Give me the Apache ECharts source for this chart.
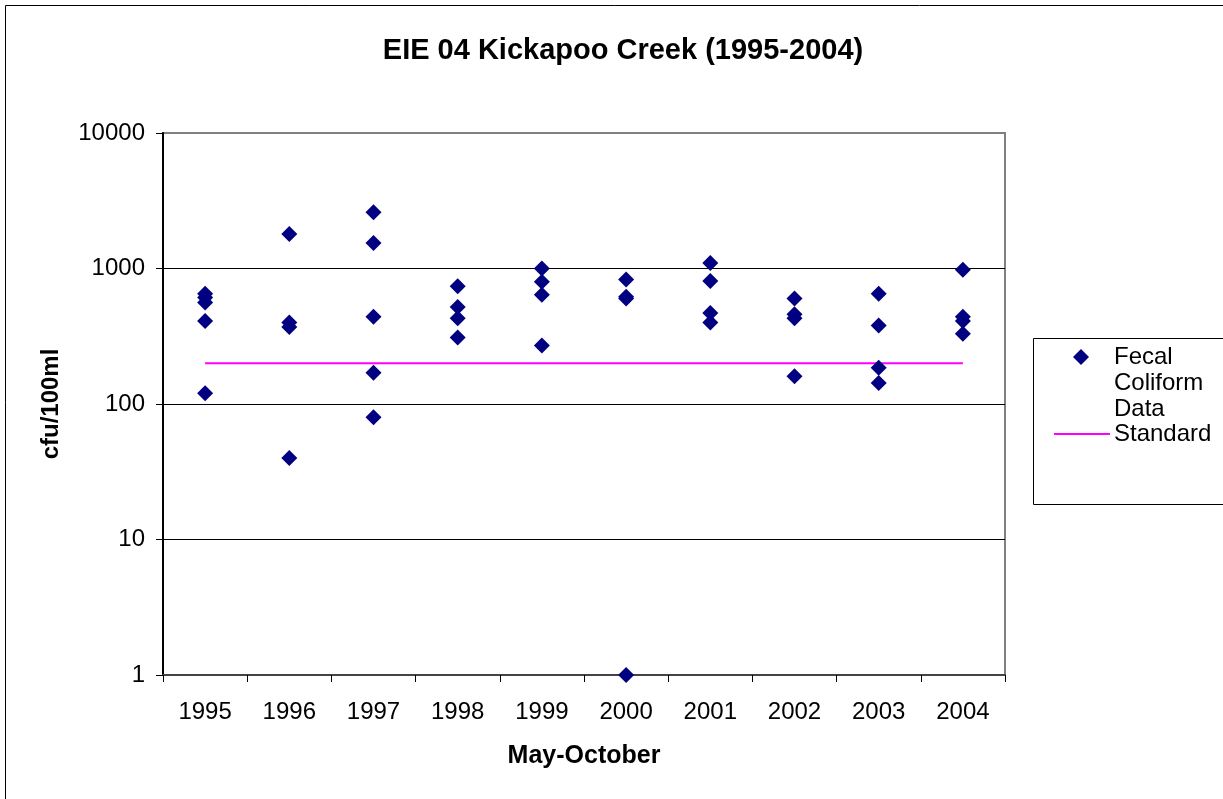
<!DOCTYPE html>
<html>
<head>
<meta charset="utf-8">
<script src="https://cdn.jsdelivr.net/npm/echarts@6/dist/echarts.min.js"></script>
<style>
html,body{margin:0;padding:0;background:#fff;}
#chart{width:1223px;height:799px;}
</style>
</head>
<body>
<div id="chart"></div>
<script>
const categories = ['1995','1996','1997','1998','1999','2000','2001','2002','2003','2004'];
const fecal1995 = [650, 610, 560, 410, 120];
const fecal1996 = [1800, 400, 370, 40];
const fecal1997 = [2600, 1540, 440, 170, 80];
const fecal1998 = [740, 520, 430, 310];
const fecal1999 = [1000, 800, 640, 270];
const fecal2000 = [830, 620, 600, 1];
const fecal2001 = [1100, 810, 470, 400];
const fecal2002 = [600, 460, 430, 160];
const fecal2003 = [650, 380, 185, 143];
const fecal2004 = [980, 440, 410, 330];
const standardValues = [200, 200, 200, 200, 200, 200, 200, 200, 200, 200];
const yTickLabels = ['1', '10', '100', '1000', '10000'];

const byYear = [fecal1995, fecal1996, fecal1997, fecal1998, fecal1999, fecal2000, fecal2001, fecal2002, fecal2003, fecal2004];
const scatterData = [];
byYear.forEach((vals, i) => vals.forEach(v => scatterData.push([categories[i], v])));

const FONT = 'Arial, "Liberation Sans", sans-serif';
const chart = echarts.init(document.getElementById('chart'), null, {renderer: 'canvas'});
chart.setOption({
  backgroundColor: '#fff',
  animation: false,
  title: {
    text: 'EIE 04 Kickapoo Creek (1995-2004)',
    left: 618, top: 31, textAlign: 'center',
    textStyle: {fontFamily: FONT, fontSize: 29, fontWeight: 'bold', color: '#000'}
  },
  grid: {left: 163, top: 133, width: 842, height: 542, show: true, borderColor: '#808080', borderWidth: 2, backgroundColor: 'transparent'},
  xAxis: {
    type: 'category', data: categories, boundaryGap: true,
    name: 'May-October', nameLocation: 'middle', nameGap: 69,
    nameTextStyle: {fontFamily: FONT, fontSize: 25, fontWeight: 'bold', color: '#000'},
    axisLine: {lineStyle: {color: '#444', width: 2}},
    axisTick: {show: true, alignWithLabel: false, length: 7, lineStyle: {color: '#000'}},
    axisLabel: {fontFamily: FONT, fontSize: 24, color: '#000', margin: 25},
    splitLine: {show: false}
  },
  yAxis: {
    type: 'log', logBase: 10, min: 1, max: 10000,
    name: 'cfu/100ml', nameLocation: 'middle', nameGap: 100, nameRotate: 90,
    nameTextStyle: {fontFamily: FONT, fontSize: 24, fontWeight: 'bold', color: '#000'},
    axisLine: {show: true, lineStyle: {color: '#000', width: 2}},
    axisTick: {show: true, length: 7, lineStyle: {color: '#000'}},
    axisLabel: {fontFamily: FONT, fontSize: 24, color: '#000', margin: 18,
      formatter: v => yTickLabels.find(t => Number(t) === Math.round(v)) || ''},
    splitLine: {show: true, showMaxLine: false, showMinLine: false, lineStyle: {color: '#000', width: 1}},
    minorTick: {show: false}
  },
  series: [
    {
      name: 'Fecal Coliform Data', type: 'scatter', data: scatterData,
      symbol: 'diamond', symbolSize: 16,
      itemStyle: {color: '#000080', opacity: 1}, z: 3
    },
    {
      name: 'Standard', type: 'line', data: standardValues,
      symbol: 'none', lineStyle: {color: '#FF00FF', width: 2}, z: 2
    }
  ],
  graphic: [
    {type: 'rect', shape: {x: 5.5, y: 5.5, width: 1240, height: 820}, style: {fill: 'none', stroke: '#000', lineWidth: 1}, silent: true},
    {type: 'rect', shape: {x: 1033.5, y: 338.5, width: 190, height: 166}, style: {fill: '#fff', stroke: '#000', lineWidth: 1}, silent: true},
    {type: 'polygon', shape: {points: [[1081, 349], [1089, 357], [1081, 365], [1073, 357]]}, style: {fill: '#000080'}, silent: true},
    {type: 'line', shape: {x1: 1054, y1: 434, x2: 1110, y2: 434}, style: {stroke: '#FF00FF', lineWidth: 2}, silent: true},
    {type: 'text', x: 1114, y: 344, style: {text: 'Fecal\nColiform\nData', fontFamily: FONT, fontSize: 24, lineHeight: 26, fill: '#000'}, silent: true},
    {type: 'text', x: 1114, y: 421, style: {text: 'Standard', fontFamily: FONT, fontSize: 24, lineHeight: 26, fill: '#000'}, silent: true}
  ]
});
</script>
</body>
</html>
